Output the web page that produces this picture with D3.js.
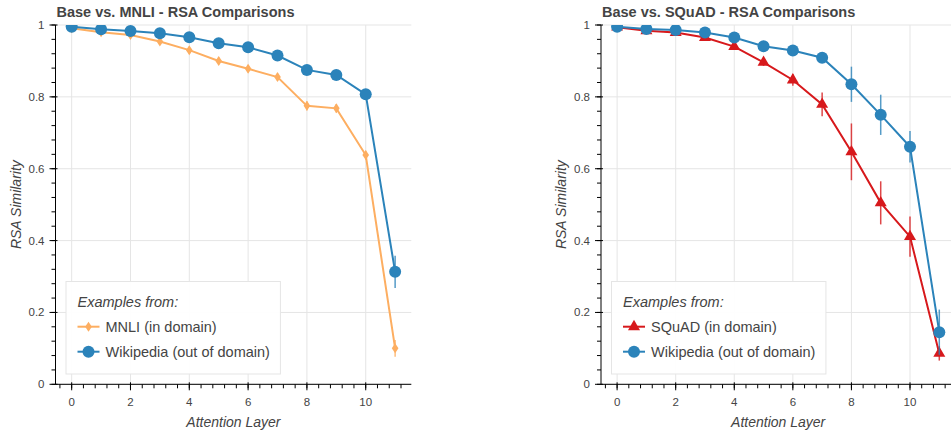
<!DOCTYPE html>
<html>
<head>
<meta charset="utf-8">
<script src="https://cdn.jsdelivr.net/npm/d3@7"></script>
<style>
  body { margin: 0; background: #fff; }
  text { font-family: "Liberation Sans", Arial, Helvetica, sans-serif; fill: #444; }
</style>
</head>
<body>
<svg id="chart" width="951" height="432"></svg>
<script>
var layers = [0, 1, 2, 3, 4, 5, 6, 7, 8, 9, 10, 11];

// left panel: Base vs. MNLI
var mnli     = [0.991, 0.980, 0.972, 0.954, 0.930, 0.900, 0.878, 0.855, 0.775, 0.768, 0.638, 0.100];
var mnliErr  = [0.004, 0.005, 0.006, 0.008, 0.010, 0.010, 0.010, 0.010, 0.013, 0.012, 0.012, 0.023];
var wikiA    = [0.995, 0.988, 0.983, 0.977, 0.966, 0.949, 0.938, 0.915, 0.875, 0.861, 0.807, 0.313];
var wikiAErr = [0.003, 0.003, 0.004, 0.004, 0.005, 0.005, 0.006, 0.006, 0.008, 0.008, 0.010, 0.045];

// right panel: Base vs. SQuAD
var squad    = [0.994, 0.984, 0.979, 0.965, 0.940, 0.896, 0.847, 0.779, 0.647, 0.505, 0.411, 0.086];
var squadErr = [0.004, 0.005, 0.006, 0.007, 0.008, 0.010, 0.016, 0.033, 0.079, 0.060, 0.056, 0.020];
var wikiB    = [0.995, 0.989, 0.986, 0.979, 0.965, 0.941, 0.929, 0.909, 0.835, 0.750, 0.661, 0.145];
var wikiBErr = [0.003, 0.004, 0.004, 0.005, 0.006, 0.007, 0.008, 0.010, 0.049, 0.056, 0.044, 0.063];

var xTicks = [0, 2, 4, 6, 8, 10];
var yTicks = [0, 0.2, 0.4, 0.6, 0.8, 1];

var orange = "#fdae61", red = "#d7191c", blue = "#2b83ba";

var svg = d3.select("#chart");
var frameTop = 25, frameBottom = 384.3;

// bokeh-like marker shapes
function circleShape(s) { return d3.symbol().type(d3.symbolCircle).size(Math.PI * s * s / 4)(); }
function diamondShape(s) {
  var r = s / 2;
  return "M0," + (-r) + "L" + (r / 1.5) + ",0L0," + r + "L" + (-r / 1.5) + ",0Z";
}
function triangleShape(s) {
  var r = s / 2, h = r * Math.sqrt(3), a = h / 3;
  return "M" + (-r) + "," + a + "L" + r + "," + a + "L0," + (a - h) + "Z";
}

function drawPanel(cfg) {
  var g = svg.append("g");
  var x = d3.scaleLinear().domain([-0.55, 11.55]).range([cfg.left, cfg.right]);
  var y = d3.scaleLinear().domain([0, 1]).range([frameBottom, frameTop]);

  // grid
  g.selectAll(".gx").data(xTicks).enter().append("line")
    .attr("x1", function(d){ return x(d); }).attr("x2", function(d){ return x(d); })
    .attr("y1", frameTop).attr("y2", frameBottom)
    .style("stroke", "#e5e5e5").style("stroke-width", 1);
  g.selectAll(".gy").data(yTicks).enter().append("line")
    .attr("x1", cfg.left).attr("x2", cfg.right)
    .attr("y1", function(d){ return y(d); }).attr("y2", function(d){ return y(d); })
    .style("stroke", "#e5e5e5").style("stroke-width", 1);

  var clipId = "clip" + cfg.id;
  svg.append("clipPath").attr("id", clipId).append("rect")
    .attr("x", cfg.left).attr("y", frameTop)
    .attr("width", cfg.right - cfg.left).attr("height", frameBottom - frameTop);
  var plot = g.append("g").attr("clip-path", "url(#" + clipId + ")");

  cfg.series.forEach(function(s) {
    var pts = layers.map(function(l, i){ return {x: l, y: s.values[i], e: s.err[i]}; });
    var line = d3.line().x(function(d){ return x(d.x); }).y(function(d){ return y(d.y); });
    plot.append("path").datum(pts).attr("d", line)
      .style("fill", "none").style("stroke", s.color).style("stroke-width", 2);
    plot.selectAll(null).data(pts).enter().append("line")
      .attr("x1", function(d){ return x(d.x); }).attr("x2", function(d){ return x(d.x); })
      .attr("y1", function(d){ return y(d.y - d.e); }).attr("y2", function(d){ return y(d.y + d.e); })
      .style("stroke", s.color).style("stroke-width", 1.5).style("opacity", 0.8);
    plot.selectAll(null).data(pts).enter().append("path")
      .attr("d", s.shape)
      .attr("transform", function(d){ return "translate(" + x(d.x) + "," + y(d.y) + ")"; })
      .style("fill", s.color);
  });

  // axes
  var xAxis = g.append("g").attr("transform", "translate(0," + frameBottom + ")");
  xAxis.append("line").attr("x1", cfg.left).attr("x2", cfg.right).style("stroke", "#000");
  var xMinor = d3.range(-0.4, 11.6, 0.4);
  xAxis.selectAll(".mn").data(xMinor).enter().append("line")
    .attr("x1", function(d){ return x(d); }).attr("x2", function(d){ return x(d); })
    .attr("y1", 0).attr("y2", 4).style("stroke", "#000");
  xAxis.selectAll(".mj").data(xTicks).enter().append("line")
    .attr("x1", function(d){ return x(d); }).attr("x2", function(d){ return x(d); })
    .attr("y1", -2).attr("y2", 6).style("stroke", "#000");
  xAxis.selectAll("text").data(xTicks).enter().append("text")
    .attr("x", function(d){ return x(d); }).attr("y", 22)
    .attr("text-anchor", "middle").style("font-size", "11.5px")
    .text(function(d){ return d; });

  var yAxis = g.append("g").attr("transform", "translate(" + cfg.left + ",0)");
  yAxis.append("line").attr("y1", frameTop).attr("y2", frameBottom).style("stroke", "#000");
  var yMinor = d3.range(0, 1.001, 0.04);
  yAxis.selectAll(".mn").data(yMinor).enter().append("line")
    .attr("y1", function(d){ return y(d); }).attr("y2", function(d){ return y(d); })
    .attr("x1", 0).attr("x2", -4).style("stroke", "#000");
  yAxis.selectAll(".mj").data(yTicks).enter().append("line")
    .attr("y1", function(d){ return y(d); }).attr("y2", function(d){ return y(d); })
    .attr("x1", 2).attr("x2", -6).style("stroke", "#000");
  yAxis.selectAll("text").data(yTicks).enter().append("text")
    .attr("x", -11).attr("y", function(d){ return y(d) + 4; })
    .attr("text-anchor", "end").style("font-size", "11.5px")
    .text(function(d){ return d; });

  // labels
  g.append("text").attr("x", cfg.left + 1).attr("y", 17)
    .style("font-size", "14.5px").style("font-weight", "bold")
    .text(cfg.title);
  g.append("text").attr("x", (cfg.left + cfg.right) / 2).attr("y", 427)
    .attr("text-anchor", "middle").style("font-size", "14px").style("font-style", "italic")
    .text("Attention Layer");
  g.append("text")
    .attr("transform", "translate(" + (cfg.left - 35) + "," + ((frameTop + frameBottom) / 2) + ") rotate(-90)")
    .attr("text-anchor", "middle").style("font-size", "14px").style("font-style", "italic")
    .text("RSA Similarity");

  // legend
  var lg = g.append("g");
  var box = lg.append("rect")
    .attr("x", cfg.left + 10.5).attr("y", 281.5).attr("height", 92.5)
    .style("fill", "#fff").style("fill-opacity", 0.95)
    .style("stroke", "#e5e5e5").style("stroke-width", 1);
  var lx = cfg.left + 22;
  lg.append("text").attr("x", lx).attr("y", 306.5)
    .style("font-size", "14.5px").style("font-style", "italic").text("Examples from:");
  var maxW = 0;
  cfg.series.forEach(function(s, i) {
    var cy = 326.7 + i * 25;
    lg.append("line").attr("x1", lx).attr("x2", lx + 22).attr("y1", cy).attr("y2", cy)
      .style("stroke", s.color).style("stroke-width", 2);
    lg.append("path").attr("d", s.shape)
      .attr("transform", "translate(" + (lx + 11) + "," + cy + ")").style("fill", s.color);
    var t = lg.append("text").attr("x", lx + 28).attr("y", cy + 5)
      .style("font-size", "14.5px").text(s.name);
    maxW = Math.max(maxW, t.node().getComputedTextLength());
  });
  box.attr("width", 28 + maxW + 22);
}

drawPanel({
  id: "A", left: 55.5, right: 411.3,
  title: "Base vs. MNLI - RSA Comparisons",
  series: [
    {name: "MNLI (in domain)", values: mnli, err: mnliErr, color: orange, shape: diamondShape(10)},
    {name: "Wikipedia (out of domain)", values: wikiA, err: wikiAErr, color: blue, shape: circleShape(12)}
  ]
});

drawPanel({
  id: "B", left: 601, right: 955.4,
  title: "Base vs. SQuAD - RSA Comparisons",
  series: [
    {name: "SQuAD (in domain)", values: squad, err: squadErr, color: red, shape: triangleShape(12)},
    {name: "Wikipedia (out of domain)", values: wikiB, err: wikiBErr, color: blue, shape: circleShape(12)}
  ]
});
</script>
</body>
</html>
